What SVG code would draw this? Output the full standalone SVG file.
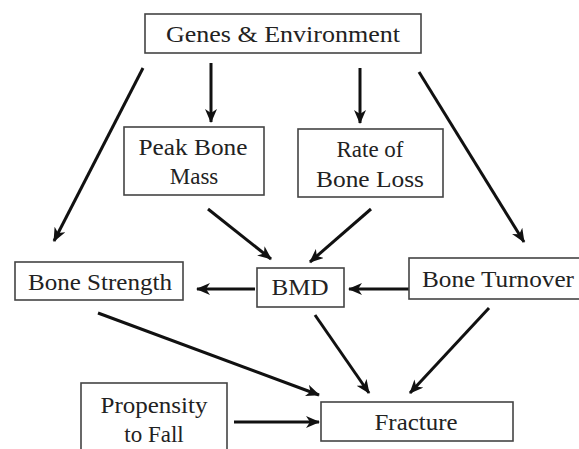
<svg xmlns="http://www.w3.org/2000/svg" width="579" height="449" viewBox="0 0 579 449">
<defs>
<marker id="ah" markerWidth="14" markerHeight="12" refX="13" refY="6" orient="auto" markerUnits="userSpaceOnUse">
<path d="M0,0 L14,6 L0,12 L4,6 z" fill="#111"/>
</marker>
</defs>
<style>
.box{fill:#fff;stroke:#444;stroke-width:1.6}
.t{font-size:23px;fill:#222;text-anchor:middle}
.c{stroke:#111;stroke-width:3;fill:none;marker-end:url(#ah)}
</style>
<rect width="579" height="449" fill="#fff"/>
<g id="connectors">
<line class="c" x1="143" y1="68" x2="54" y2="241"/>
<line class="c" x1="211" y1="63" x2="211" y2="122"/>
<line class="c" x1="360" y1="68" x2="360" y2="123"/>
<line class="c" x1="419" y1="72" x2="524" y2="242"/>
<line class="c" x1="208" y1="209" x2="271" y2="259"/>
<line class="c" x1="371" y1="209" x2="310" y2="262"/>
<line class="c" x1="255" y1="289" x2="197" y2="289"/>
<line class="c" x1="409" y1="289" x2="349" y2="289"/>
<line class="c" x1="98" y1="313" x2="319" y2="395"/>
<line class="c" x1="315" y1="315" x2="369" y2="393"/>
<line class="c" x1="489" y1="308" x2="410" y2="393"/>
<line class="c" x1="234" y1="422" x2="319" y2="422"/>
</g>
<g font-family="Liberation Serif, DejaVu Serif, serif">
<g id="genes">
<rect class="box" x="145" y="14" width="276" height="39"/>
<text class="t" x="283" y="42" textLength="234" lengthAdjust="spacingAndGlyphs">Genes &amp; Environment</text>
</g>
<g id="peak">
<rect class="box" x="124" y="127" width="140" height="68"/>
<text class="t" x="193" y="155" textLength="109" lengthAdjust="spacingAndGlyphs">Peak Bone</text>
<text class="t" x="194" y="184">Mass</text>
</g>
<g id="rate">
<rect class="box" x="298" y="129" width="145" height="68"/>
<text class="t" x="370" y="157">Rate of</text>
<text class="t" x="370" y="187" textLength="108" lengthAdjust="spacingAndGlyphs">Bone Loss</text>
</g>
<g id="strength">
<rect class="box" x="15" y="262" width="168" height="38"/>
<text class="t" x="100" y="290" textLength="144" lengthAdjust="spacingAndGlyphs">Bone Strength</text>
</g>
<g id="bmd">
<rect class="box" x="257" y="268" width="87" height="39"/>
<text class="t" x="300" y="295" textLength="57" lengthAdjust="spacingAndGlyphs">BMD</text>
</g>
<g id="turnover">
<rect class="box" x="409" y="258" width="180" height="41"/>
<text class="t" x="498" y="287" textLength="152" lengthAdjust="spacingAndGlyphs">Bone Turnover</text>
</g>
<g id="propensity">
<rect class="box" x="81" y="383" width="146" height="80"/>
<text class="t" x="154" y="413" textLength="107" lengthAdjust="spacingAndGlyphs">Propensity</text>
<text class="t" x="154" y="442">to Fall</text>
</g>
<g id="fracture">
<rect class="box" x="321" y="402" width="192" height="39"/>
<text class="t" x="416" y="430" textLength="83" lengthAdjust="spacingAndGlyphs">Fracture</text>
</g>
</g>
</svg>
